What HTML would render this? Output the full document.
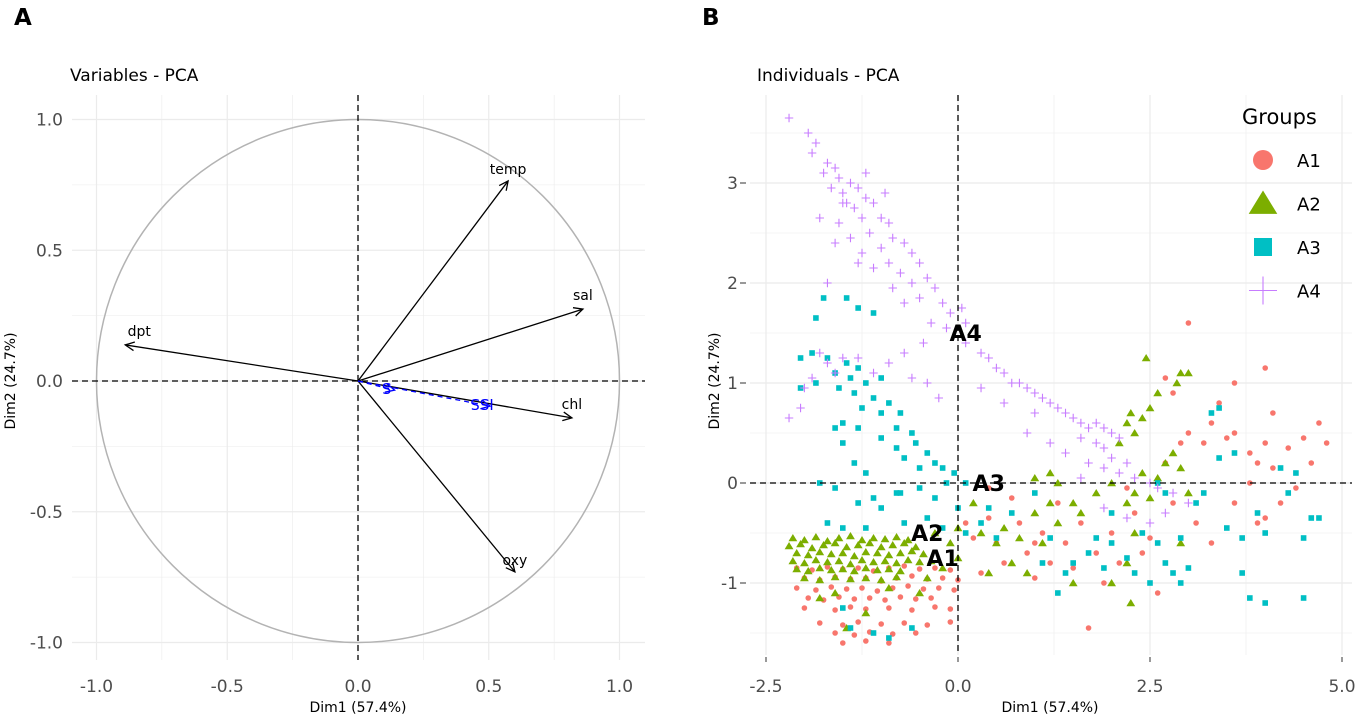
<!DOCTYPE html>
<html><head><meta charset="utf-8"><style>
body{margin:0;background:#fff;}
svg{display:block;font-family:"DejaVu Sans","Liberation Sans",sans-serif;}
</style></head><body>
<svg id="s" width="1358" height="715" viewBox="0 0 1358 715">
<text x="14" y="25" font-size="23" font-weight="bold">A</text>
<text x="702" y="25" font-size="23" font-weight="bold">B</text>
<text x="70" y="81" font-size="17">Variables - PCA</text>
<text x="757" y="81" font-size="17">Individuals - PCA</text>
<g id="L"></g>
<g id="R"></g>
</svg>
<script>
// ---- Panel A data ----
const varNames=["temp","sal","dpt","chl","oxy"];
const varX=[0.574,0.86,-0.89,0.818,0.60];
const varY=[0.765,0.275,0.138,-0.141,-0.73];
const suppNames=["ISS","S"];
const suppX=[0.505,0.14];
const suppY=[-0.096,-0.035];
const leftTicks=[-1.0,-0.5,0.0,0.5,1.0];
const leftTickLabels=["-1.0","-0.5","0.0","0.5","1.0"];
// ---- Panel B data ----
const xTicksB=[-2.5,0,2.5,5.0];
const xTickLabelsB=["-2.5","0.0","2.5","5.0"];
const yTicksB=[-1,0,1,2,3];
const yTickLabelsB=["-1","0","1","2","3"];
const groups=["A1","A2","A3","A4"];
const a4=[[-2.2,3.65],[-1.95,3.5],[-1.85,3.4],[-1.9,3.3],[-1.7,3.2],[-1.6,3.15],[-1.75,3.1],[-1.55,3.05],[-1.4,3.0],[-1.65,2.95],[-1.5,2.9],[-1.3,2.95],[-1.2,2.85],[-1.45,2.8],[-1.35,2.75],[-1.1,2.8],[-1.25,2.65],[-1.55,2.6],[-1.0,2.65],[-0.9,2.6],[-1.15,2.5],[-1.4,2.45],[-0.85,2.45],[-1.6,2.4],[-1.0,2.35],[-0.7,2.4],[-1.25,2.3],[-0.6,2.3],[-0.9,2.2],[-1.1,2.15],[-0.5,2.2],[-0.75,2.1],[-1.3,2.2],[-0.4,2.05],[-0.6,2.0],[-0.85,1.95],[-0.3,1.95],[-0.5,1.85],[-0.2,1.8],[-0.1,1.7],[0.05,1.75],[-0.35,1.6],[-0.15,1.55],[0.1,1.6],[-0.7,1.8],[-1.7,2.0],[-1.5,2.8],[-1.8,2.65],[-1.2,3.1],[-0.95,2.9],
[0.1,1.4],[0.3,1.3],[0.4,1.25],[0.5,1.15],[0.6,1.1],[0.7,1.0],[0.8,1.0],[0.9,0.95],[1.0,0.9],[1.1,0.85],[1.2,0.8],[1.3,0.75],[1.0,0.7],[1.4,0.7],[1.5,0.65],[1.6,0.6],[1.7,0.55],[1.8,0.6],[1.9,0.55],[2.0,0.5],[1.6,0.45],[1.8,0.4],[1.9,0.35],[2.1,0.45],[1.7,0.2],[1.9,0.15],[2.0,0.25],[2.1,0.1],[2.2,0.2],[1.4,0.3],[1.2,0.4],[0.9,0.5],[2.3,0.05],[2.5,0.0],[2.6,-0.05],[2.8,-0.1],[3.0,-0.2],[2.2,-0.35],[2.5,-0.4],[1.9,-0.25],[2.7,-0.3],[1.6,0.05],[0.6,0.8],[0.3,0.95],
[-2.2,0.65],[-2.05,0.75],[-2.0,0.95],[-1.9,1.05],[-1.7,1.2],[-1.5,1.25],[-1.3,1.25],[-1.6,1.1],[-1.1,1.1],[-0.9,1.2],[-0.7,1.3],[-0.6,1.05],[-0.4,1.0],[-0.25,0.85],[-1.8,1.3],[-0.45,1.4]];
const a3=[[-1.75,1.85],[-1.45,1.85],[-1.3,1.75],[-1.1,1.7],[-1.85,1.65],[-2.05,1.25],[-1.9,1.3],[-1.7,1.25],[-1.45,1.2],[-1.3,1.15],[-1.6,1.1],[-1.4,1.05],[-1.2,1.0],[-1.0,1.05],[-2.05,0.95],[-1.85,1.0],[-1.55,0.95],[-1.35,0.9],[-1.1,0.85],[-0.9,0.8],[-1.25,0.75],[-1.0,0.7],[-0.75,0.7],[-1.5,0.6],[-1.3,0.55],[-0.8,0.55],[-0.6,0.5],[-1.6,0.55],[-1.0,0.45],[-0.55,0.4],[-0.8,0.35],[-0.4,0.3],[-0.7,0.25],[-1.35,0.2],[-1.5,0.4],[-0.3,0.2],[-0.5,0.15],[-0.2,0.15],[-0.05,0.1],[0.1,0.0],[-0.15,0.0],[-1.2,0.1],[-1.8,0.0],[-1.6,-0.05],[-1.3,-0.2],[-1.1,-0.15],[-0.8,-0.1],[-0.5,-0.05],[-0.3,-0.15],[0.0,-0.25],[-1.0,-0.25],[-1.5,-0.45],[-1.2,-0.45],[-0.7,-0.4],[-0.4,-0.35],[-0.2,-0.45],[0.1,-0.5],[0.3,-0.4],[0.5,-0.55],[0.7,-0.3],[0.4,-0.25],[-0.75,-0.1],[-1.7,-0.4],
[1.0,-0.1],[1.2,-0.55],[1.1,-0.8],[1.5,-0.8],[1.4,-0.9],[1.3,-1.1],[1.7,-0.7],[1.9,-0.85],[2.0,-0.6],[2.2,-0.75],[2.3,-0.9],[2.4,-0.5],[2.5,-1.0],[2.6,-0.6],[2.7,-0.8],[2.8,-0.9],[2.9,-1.0],[3.0,-0.85],[2.9,-0.55],[3.1,-0.2],[2.7,-0.1],[3.2,-0.1],[3.3,0.7],[3.4,0.75],[3.4,0.25],[3.6,0.3],[2.6,0.0],[3.5,-0.45],[3.7,-0.55],[3.9,-0.3],[3.7,-0.9],[4.0,-0.5],[4.2,0.15],[4.4,0.1],[4.3,-0.1],[4.6,-0.35],[4.7,-0.35],[4.5,-0.55],[3.8,-1.15],[4.0,-1.2],[4.5,-1.15],[1.8,-0.55],[2.0,-0.3],
[-1.4,-1.45],[-1.1,-1.5],[-0.9,-1.55],[-0.6,-1.45],[-1.5,-1.25]];
const a2=[[-2.15,-0.55],[-2.0,-0.57],[-1.85,-0.54],[-1.7,-0.58],[-1.55,-0.55],[-1.4,-0.53],[-1.25,-0.57],[-1.1,-0.55],[-0.95,-0.56],[-0.8,-0.54],[-0.65,-0.57],
[-2.2,-0.63],[-2.05,-0.61],[-1.9,-0.65],[-1.75,-0.62],[-1.6,-0.6],[-1.45,-0.64],[-1.3,-0.62],[-1.15,-0.6],[-1.0,-0.64],[-0.85,-0.62],[-0.7,-0.6],[-0.55,-0.64],
[-2.1,-0.7],[-1.95,-0.72],[-1.8,-0.69],[-1.65,-0.71],[-1.5,-0.7],[-1.35,-0.73],[-1.2,-0.69],[-1.05,-0.7],[-0.9,-0.72],[-0.75,-0.7],[-0.6,-0.68],[-0.45,-0.71],
[-2.15,-0.78],[-2.0,-0.8],[-1.85,-0.77],[-1.7,-0.79],[-1.55,-0.78],[-1.4,-0.81],[-1.25,-0.77],[-1.1,-0.79],[-0.95,-0.78],[-0.8,-0.8],[-0.65,-0.77],[-0.5,-0.79],[-0.35,-0.78],
[-2.1,-0.86],[-1.95,-0.88],[-1.8,-0.85],[-1.65,-0.87],[-1.5,-0.86],[-1.35,-0.88],[-1.2,-0.85],[-1.05,-0.87],[-0.9,-0.86],[-0.75,-0.88],
[-2.0,-0.95],[-1.8,-0.97],[-1.6,-0.94],[-1.4,-0.96],[-1.2,-0.95],[-1.0,-0.97],[-0.8,-0.94],
[-1.8,-1.15],[-1.2,-1.3],[-0.9,-1.05],[-0.5,-1.1],[-1.45,-1.45],[-1.6,-1.1],[-0.3,-0.5],[-0.1,-0.6],[0.0,-0.45],[0.2,-0.2],[0.3,-0.5],[0.5,-0.6],[0.6,-0.45],[0.8,-0.55],[0.7,-0.8],[0.4,-0.9],[1.0,-0.3],[1.1,-0.6],[1.3,-0.4],[1.5,-0.2],[1.2,0.1],[1.0,0.05],[1.6,-0.3],[1.8,-0.1],[2.0,0.0],[2.2,-0.2],[2.3,-0.1],[2.5,-0.15],[2.6,0.05],[2.4,0.1],[2.7,0.2],[2.8,0.3],[2.9,0.15],[3.0,-0.1],[2.3,0.5],[2.1,0.4],[2.2,0.6],[2.25,0.7],[2.4,0.65],[2.5,0.75],[2.6,0.9],[2.9,1.1],[3.0,1.1],[2.85,1.0],[2.45,1.25],[2.2,-0.8],[2.25,-1.2],[2.0,-1.0],[1.5,-1.0],[1.3,0.0],[0.9,-0.9],[0.0,-0.75],[-0.2,-0.85],[-0.4,-0.95],[1.2,-0.2],[2.9,-0.6],[2.3,-0.5]];
const a1=[[-2.1,-0.85],[-1.9,-0.87],[-1.7,-0.84],[-1.5,-0.86],[-1.3,-0.85],[-1.1,-0.88],[-0.9,-0.85],[-0.7,-0.83],[-0.5,-0.86],[-0.3,-0.85],[-0.1,-0.87],
[-2.0,-0.95],[-1.8,-0.97],[-1.6,-0.94],[-1.4,-0.96],[-1.2,-0.95],[-1.0,-0.98],[-0.8,-0.95],[-0.6,-0.93],[-0.4,-0.96],[-0.2,-0.95],[0.0,-0.97],
[-2.1,-1.05],[-1.85,-1.07],[-1.65,-1.04],[-1.45,-1.06],[-1.25,-1.05],[-1.05,-1.08],[-0.85,-1.05],[-0.65,-1.03],[-0.45,-1.06],[-0.25,-1.05],[-0.05,-1.07],
[-1.95,-1.15],[-1.75,-1.17],[-1.55,-1.14],[-1.35,-1.16],[-1.15,-1.15],[-0.95,-1.17],[-0.75,-1.14],[-0.55,-1.16],[-0.35,-1.15],
[-2.0,-1.25],[-1.6,-1.27],[-1.4,-1.24],[-1.2,-1.26],[-0.9,-1.25],[-0.6,-1.27],[-0.3,-1.24],[-0.1,-1.26],
[-1.8,-1.4],[-1.5,-1.42],[-1.3,-1.39],[-1.0,-1.41],[-0.7,-1.4],[-0.4,-1.42],[-0.1,-1.39],
[-1.6,-1.5],[-1.35,-1.52],[-1.15,-1.49],[-0.85,-1.51],[-0.55,-1.5],[-1.5,-1.6],[-1.2,-1.58],[-0.9,-1.6],
[0.1,-0.4],[0.2,-0.55],[0.4,-0.35],[0.5,-0.6],[0.6,-0.8],[0.3,-0.9],[0.8,-0.4],[0.9,-0.7],[1.0,-0.95],[1.2,-0.8],[1.1,-0.5],[1.4,-0.6],[1.5,-0.85],[1.6,-0.4],[1.8,-0.7],[1.9,-1.0],[1.7,-1.45],[2.0,-0.5],[2.1,-0.8],[2.3,-0.3],[2.4,-0.7],[2.5,-0.55],[2.6,-1.1],[2.8,-0.2],[2.7,0.2],[2.9,0.4],[2.7,1.05],[2.8,0.9],[3.0,0.5],[3.2,0.4],[3.3,0.6],[3.5,0.45],[3.6,0.5],[3.4,0.8],[3.0,1.6],[3.6,1.0],[3.8,0.3],[3.9,0.2],[4.0,0.4],[4.1,0.15],[4.3,0.35],[4.5,0.45],[4.6,0.2],[4.7,0.6],[4.8,0.4],[4.0,1.15],[4.1,0.7],[3.8,0.0],[3.9,-0.4],[4.2,-0.2],[4.4,-0.05],[3.6,-0.2],[3.3,-0.6],[3.1,-0.4],[2.2,-0.05],[1.3,-0.2],[0.7,-0.15],[0.4,-0.05],[4.0,-0.35],[1.0,-0.6]];
const centroidX=[-0.2,-0.4,0.4,0.1];
const centroidY=[-0.75,-0.5,0.0,1.5];

const NS="http://www.w3.org/2000/svg";
function mk(p,tag,at,txt){const e=document.createElementNS(NS,tag);for(const k in at)e.setAttribute(k,at[k]);if(txt!==undefined)e.textContent=txt;p.appendChild(e);return e;}
const L=document.getElementById('L'),R=document.getElementById('R');
// ---- Panel A ----
const lx=v=>358+v*261.5, ly=v=>381-v*261.5;
const gA=mk(L,'g',{});


for(let v=-1;v<=1.001;v+=0.25){const major=Math.abs(v*2-Math.round(v*2))<1e-6;
 mk(gA,'line',{x1:lx(v),x2:lx(v),y1:95,y2:660,stroke:'#ebebeb','stroke-width':major?1.2:0.6});
 mk(gA,'line',{x1:72,x2:645,y1:ly(v),y2:ly(v),stroke:'#ebebeb','stroke-width':major?1.2:0.6});}
const circ=mk(L,'circle',{cx:lx(0),cy:ly(0),r:261.5,fill:'none',stroke:'#b3b3b3','stroke-width':1.5});


mk(L,'line',{x1:72,x2:645,y1:ly(0),y2:ly(0),stroke:'#000','stroke-dasharray':'6,4','stroke-width':1.3});
mk(L,'line',{x1:lx(0),x2:lx(0),y1:95,y2:660,stroke:'#000','stroke-dasharray':'6,4','stroke-width':1.3});
function arrow(p,x2,y2,col,dash){const a=Math.atan2(y2-ly(0),x2-lx(0));const h=10;
 mk(p,'line',{x1:lx(0),y1:ly(0),x2:x2,y2:y2,stroke:col,'stroke-width':1.3,'stroke-dasharray':dash||'none'});
 mk(p,'path',{d:`M${x2-h*Math.cos(a-0.45)},${y2-h*Math.sin(a-0.45)} L${x2},${y2} L${x2-h*Math.cos(a+0.45)},${y2-h*Math.sin(a+0.45)}`,fill:'none',stroke:col,'stroke-width':1.3});}
const lblOff={temp:[0,-12],sal:[0,-14],dpt:[14,-14],chl:[0,-14],oxy:[0,-12]};
varNames.forEach((n,i)=>{const g=mk(L,'g',{});
 
 
 arrow(g,lx(varX[i]),ly(varY[i]),'#000');
 mk(g,'text',{x:lx(varX[i])+lblOff[n][0],y:ly(varY[i])+lblOff[n][1]+5,'font-size':14,'text-anchor':'middle'},n);});
suppNames.forEach((n,i)=>{const g=mk(L,'g',{});
 
 
 arrow(g,lx(suppX[i]),ly(suppY[i]),'#0000ff','5,4');
 const tx=lx(suppX[i])-8,ty=ly(suppY[i])+3;
 mk(g,'text',{x:tx,y:ty,'font-size':15,fill:'#0000ff','text-anchor':'middle',transform:`rotate(180 ${tx} ${ty-5})`},n);});
leftTicks.forEach((v,i)=>{
 const t=mk(L,'text',{x:lx(v),y:692,'font-size':17,fill:'#4d4d4d','text-anchor':'middle'},leftTickLabels[i]);
 
 
 const u=mk(L,'text',{x:63,y:ly(v)+6,'font-size':17,fill:'#4d4d4d','text-anchor':'end'},leftTickLabels[i]);
 
 });
const xa=mk(L,'text',{x:358,y:712,'font-size':14,'text-anchor':'middle'},'Dim1 (57.4%)');


const ya=mk(L,'text',{x:15,y:381,'font-size':14,'text-anchor':'middle',transform:'rotate(-90 15 381)'},'Dim2 (24.7%)');


// ---- Panel B ----
const rx=v=>958+v*76.8, ry=v=>483-v*100;
const gB=mk(R,'g',{});


[-2.5,-1.25,0,1.25,2.5,3.75,5].forEach((v,i)=>mk(gB,'line',{x1:rx(v),x2:rx(v),y1:95,y2:655,stroke:'#ebebeb','stroke-width':i%2?0.6:1.2}));
[-1.5,-1,-0.5,0,0.5,1,1.5,2,2.5,3,3.5].forEach((v,i)=>mk(gB,'line',{x1:750,x2:1352,y1:ry(v),y2:ry(v),stroke:'#ebebeb','stroke-width':i%2?1.2:0.6}));
const cols=['#f8766d','#7cae00','#00bfc4','#c77cff'];
function shape(p,k,x,y,big){
 if(k==0)return mk(p,'circle',{cx:x,cy:y,r:big?10:2.8,fill:cols[0]});
 if(k==1){const h=big?13:4;return mk(p,'path',{d:`M${x},${y-h} L${x+h*1.1},${y+h*0.8} L${x-h*1.1},${y+h*0.8}Z`,fill:cols[1]});}
 if(k==2){const h=big?9:2.8;return mk(p,'rect',{x:x-h,y:y-h,width:2*h,height:2*h,fill:cols[2]});}
 const h=big?14:4.2;return mk(p,'path',{d:`M${x-h},${y}H${x+h}M${x},${y-h}V${y+h}`,stroke:cols[3],'stroke-width':1.1,fill:'none'});}
[a1,a2,a3,a4].forEach((arr,k)=>{const g=mk(R,'g',{});
 
 
 arr.forEach(p=>{const e=shape(g,k,rx(p[0]),ry(p[1]));
  
  });});
mk(R,'line',{x1:750,x2:1352,y1:ry(0),y2:ry(0),stroke:'#000','stroke-dasharray':'6,4','stroke-width':1.3});
mk(R,'line',{x1:rx(0),x2:rx(0),y1:95,y2:655,stroke:'#000','stroke-dasharray':'6,4','stroke-width':1.3});
groups.forEach((gname,k)=>{const t=mk(R,'text',{x:rx(centroidX[k]),y:ry(centroidY[k])+8,'font-size':22,'font-weight':'bold','text-anchor':'middle'},gname);
 
 });
xTicksB.forEach((v,i)=>{const t=mk(R,'text',{x:rx(v),y:692,'font-size':17,fill:'#4d4d4d','text-anchor':'middle'},xTickLabelsB[i]);
 
 
 mk(R,'line',{x1:rx(v),x2:rx(v),y1:657,y2:662,stroke:'#333'});});
yTicksB.forEach((v,i)=>{const t=mk(R,'text',{x:738,y:ry(v)+6,'font-size':17,fill:'#4d4d4d','text-anchor':'end'},yTickLabelsB[i]);
 
 
 mk(R,'line',{x1:740,x2:746,y1:ry(v),y2:ry(v),stroke:'#333'});});
const xb=mk(R,'text',{x:1050,y:712,'font-size':14,'text-anchor':'middle'},'Dim1 (57.4%)');


const yb=mk(R,'text',{x:719,y:381,'font-size':14,'text-anchor':'middle',transform:'rotate(-90 719 381)'},'Dim2 (24.7%)');


const lg=mk(R,'g',{});


mk(lg,'text',{x:1242,y:124,'font-size':21},'Groups');
groups.forEach((gname,k)=>{const y=160+k*43.5;const e=mk(lg,'g',{});
 
 
 shape(e,k,1263,y,true);
 mk(e,'text',{x:1297,y:y+7,'font-size':18},gname);});
</script>
</body></html>
